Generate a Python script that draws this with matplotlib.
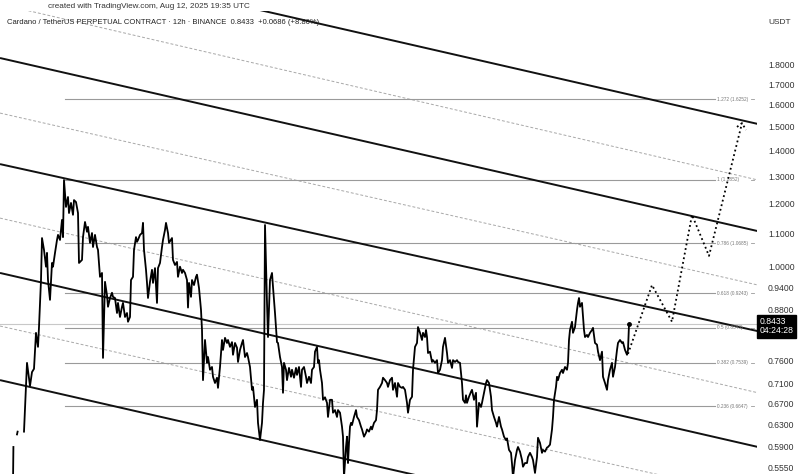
import numpy as np
import matplotlib
matplotlib.use("Agg")
import matplotlib.pyplot as plt
from matplotlib.ticker import FixedLocator, NullLocator, NullFormatter, FormatStrFormatter
from matplotlib.patches import Rectangle

plt.rcParams['font.family'] = ['Liberation Sans', 'DejaVu Sans']

nan = np.nan

# ADAUSDT perp, 12h closes (bar position, price)
bar = [13, 13.4, nan, 17, 17.6, nan,
       24, 27, 30, 32, 34, 36, 38, 39, 41, 42, 44, 46, 47, 48, 50, 52, 53, 55, 57, 58, 60, 62, 63, 64,
       66, 68, 69, 71, 73, 74, 76, 78, 79, 82, 83, 85, 87, 88, 90, 92, 93, 95, 97, 98, 100, 102, 103,
       105, 107, 108, 110, 112, 113, 115, 117, 118, 120, 122, 123, 125, 127, 128, 130, 131, 133, 134,
       136, 137, 138, 140, 142, 143, 144, 146, 147, 148, 150, 152, 153, 155, 157, 158, 160, 162, 163,
       165, 166, 168, 169, 172, 173, 175, 177, 178, 180, 182, 183, 185, 187, 188, 189, 191, 192, 194,
       196, 197, 199, 201, 202, 203, 205, 207, 208, 210, 212, 213, 215, 217, 218, 220, 222, 223, 225,
       227, 228, 230, 232, 233, 235, 237, 238, 240, 242, 243, 245, 247, 248, 250, 252, 253, 255, 257,
       258, 260, 262, 263, 264, 265, 267, 268, 270, 272, 273, 275, 277, 278, 280, 282, 283, 284, 286,
       287, 289, 291, 292, 294, 296, 297, 299, 301, 302, 304, 306, 307, 309, 311, 312, 314, 315, 317,
       318, 319, 320, 322, 323, 325, 327, 328, 330, 332, 333, 335, 337, 338, 340, 342, 343, 344, 346,
       347, 348, 349, 350, 351, 352, 354, 356, 357, 359, 361, 362, 364, 366, 367, 369, 371, 372, 374,
       376, 377, 378, 380, 382, 383, 385, 387, 388, 390, 392, 393, 395, 397, 398, 400, 402, 403, 405,
       407, 408, 410, 412, 413, 415, 417, 418, 420, 422, 423, 425, 426, 427, 428, 430, 432, 433, 435,
       437, 438, 440, 442, 443, 445, 447, 448, 450, 452, 453, 455, 457, 458, 460, 462, 463, 465, 466,
       467, 469, 471, 472, 474, 476, 477, 479, 481, 482, 484, 486, 487, 489, 491, 492, 494, 496, 497,
       499, 501, 502, 504, 506, 507, 509, 511, 512, 513, 515, 517, 518, 520, 522, 523, 525, 527, 528,
       530, 532, 533, 535, 537, 538, 540, 542, 543, 545, 547, 548, 550, 552, 553, 554, 556, 557, 558,
       560, 562, 563, 565, 567, 568, 569, 570, 572, 573, 575, 577, 578, 579, 580, 582, 583, 584, 585,
       587, 588, 590, 592, 593, 595, 597, 598, 600, 602, 603, 605, 607, 608, 610, 612, 613, 615, 617,
       618, 620, 622, 623, 625, 627, 628, 629]
close = [0.530, 0.590, nan, 0.612, 0.617, nan,
         0.617, 0.754, 0.705, 0.734, 0.741, 0.823, 0.790, 0.837, 0.960, 1.085, 1.048, 0.998, 1.039, 0.960,
         0.906, 1.009, 0.998, 1.039, 1.079, 1.095, 1.079, 1.144, 1.088, 1.285,
         1.188, 1.223, 1.167, 1.202, 1.161, 1.212, 1.205, 1.167, 1.009, 1.018, 1.088, 1.137, 1.105, 1.121,
         1.070, 1.101, 1.057, 1.095, 1.057, 1.048, 0.969, 0.980, 0.765,
         0.955, 0.918, 0.888, 0.911, 0.925, 0.914, 0.911, 0.872, 0.898, 0.862, 0.888, 0.898, 0.862, 0.872,
         0.850, 0.862, 0.960, 0.969, 1.048,
         1.088, 1.073, 1.079, 1.095, 1.101, 1.134, 1.048, 0.989, 0.952, 0.911, 0.955, 0.989, 0.952, 0.994,
         0.898, 0.994, 1.009, 1.057, 1.079,
         1.111, 1.134, 1.101, 1.070, 1.085, 1.018, 1.003, 1.012, 0.969, 0.998, 0.980, 0.989, 0.980, 0.960,
         0.886, 0.952, 0.914, 0.960, 0.946,
         0.969, 0.975, 0.938, 0.880, 0.830, 0.717, 0.806, 0.754, 0.767, 0.739, 0.745, 0.724, 0.711, 0.722,
         0.701, 0.745, 0.806, 0.783, 0.811,
         0.799, 0.806, 0.790, 0.801, 0.772, 0.799, 0.788, 0.756, 0.783, 0.799, 0.806, 0.767, 0.776, 0.767,
         0.745, 0.697, 0.703, 0.663, 0.677,
         0.633, 0.602, 0.633, 0.671, 0.697, 1.127, 0.898, 0.813, 0.960, 0.980, 0.941, 0.872, 0.801, 0.799,
         0.767, 0.745, 0.691, 0.754, 0.739,
         0.717, 0.743, 0.724, 0.739, 0.722, 0.743, 0.728, 0.745, 0.703, 0.739, 0.745, 0.724, 0.711, 0.724,
         0.711, 0.739, 0.745, 0.779, 0.790,
         0.754, 0.760, 0.739, 0.711, 0.677, 0.682, 0.671, 0.644, 0.677, 0.677, 0.652, 0.657, 0.644, 0.657,
         0.652, 0.626, 0.608, 0.540, 0.590,
         0.608, 0.563, 0.597, 0.626, 0.633, 0.629, 0.644, 0.657, 0.644, 0.638, 0.626, 0.621, 0.608, 0.615,
         0.621, 0.617, 0.626, 0.621, 0.633,
         0.638, 0.657, 0.697, 0.703, 0.711, 0.722, 0.717, 0.711, 0.703, 0.717, 0.722, 0.697, 0.711, 0.683,
         0.711, 0.703, 0.701, 0.703, 0.697,
         0.671, 0.652, 0.677, 0.683, 0.739, 0.790, 0.799, 0.837, 0.823, 0.806, 0.823, 0.813, 0.830, 0.813,
         0.776, 0.779, 0.756, 0.760, 0.754,
         0.760, 0.732, 0.739, 0.760, 0.790, 0.811, 0.776, 0.754, 0.760, 0.743, 0.760, 0.756, 0.760, 0.756,
         0.754, 0.711, 0.677, 0.671, 0.686,
         0.671, 0.683, 0.693, 0.697, 0.677, 0.691, 0.626, 0.671, 0.663, 0.671, 0.691, 0.711, 0.717, 0.711,
         0.683, 0.657, 0.644, 0.633, 0.626,
         0.644, 0.626, 0.621, 0.608, 0.602, 0.605, 0.585, 0.580, 0.562, 0.540, 0.568, 0.585, 0.590, 0.582,
         0.568, 0.557, 0.563, 0.563, 0.573,
         0.580, 0.573, 0.568, 0.547, 0.573, 0.606, 0.597, 0.580, 0.585, 0.582, 0.589, 0.590, 0.594, 0.621,
         0.644, 0.677, 0.703, 0.724, 0.717,
         0.732, 0.739, 0.732, 0.745, 0.739, 0.754, 0.806, 0.830, 0.850, 0.823, 0.837, 0.880, 0.898, 0.911,
         0.888, 0.898, 0.862, 0.830, 0.813,
         0.818, 0.813, 0.823, 0.830, 0.835, 0.799, 0.795, 0.779, 0.760, 0.779, 0.724, 0.711, 0.697, 0.717,
         0.739, 0.754, 0.724, 0.745, 0.783,
         0.799, 0.806, 0.799, 0.801, 0.783, 0.772, 0.783, 0.8433]

last_price = 0.8433

# projected path (dotted)
proj_bar = [628, 652, 672, 692, 709, 742]
proj_price = [0.774, 0.946, 0.850, 1.161, 1.030, 1.517]
arrow_bar = [737, 742, 746]
arrow_price = [1.500, 1.517, 1.487]

# descending channel: solid rails and dashed mid lines (bar0, price0, bar1, price1)
rails = [(216, 2.172, 758, 1.513),
         (0, 1.834, 758, 1.107),
         (0, 1.346, 758, 0.827),
         (0, 0.980, 758, 0.590),
         (0, 0.717, 420, 0.542)]
mids = [(0, 2.146, 758, 1.285),
        (0, 1.562, 758, 0.946),
        (0, 1.150, 758, 0.691),
        (0, 0.8395, 660, 0.5437)]

# fib retracement levels
fib_ratio = ['1.272', '1', '0.786', '0.618', '0.5', '0.382', '0.236']
fib_price = [1.6252, 1.2852, 1.0685, 0.9243, 0.8348, 0.7539, 0.6647]
fib_start = 65

yticks = [1.8, 1.7, 1.6, 1.5, 1.4, 1.3, 1.2, 1.1, 1.0, 0.94, 0.88, 0.76, 0.71, 0.67, 0.63, 0.59, 0.555]

fig = plt.figure(figsize=(8, 4.74), dpi=100)
ax = fig.add_axes([0, 0, 757 / 800, 1])
ax.set_yscale('log')
ax.set_xlim(0, 757)
ax.set_ylim(0.5453, 2.172)

for b0, p0, b1, p1 in mids:
    ax.plot([b0, b1], [p0, p1], color='#a8a8a8', lw=0.7, dashes=(3, 2), zorder=1)
for b0, p0, b1, p1 in rails:
    ax.plot([b0, b1], [p0, p1], color='#111111', lw=1.4, zorder=2, solid_capstyle='butt')

for r, p in zip(fib_ratio, fib_price):
    ax.plot([fib_start, 715], [p, p], color='#9a9a9a', lw=0.8, zorder=1)
    ax.text(717, p, f'{r} ({p:.4f})', fontsize=3.4, color='#777777', va='center', ha='left')
    ax.plot([751, 754], [p, p], color='#9a9a9a', lw=0.6, zorder=1)

ax.axhline(last_price, color='#c8c8c8', lw=0.8, zorder=1)

ax.plot(bar, close, color='black', lw=1.3, zorder=4, solid_joinstyle='round')
ax.plot(bar[-1], close[-1], 'o', color='black', ms=2.5, zorder=5)

ax.plot(proj_bar, proj_price, color='black', lw=1.3, linestyle=(0, (1, 1.6)), zorder=3)
ax.plot(arrow_bar, arrow_price, color='black', lw=1.3, linestyle=(0, (1, 1.6)), zorder=3)

for s in ax.spines.values():
    s.set_visible(False)
ax.set_xticks([])
ax.yaxis.tick_right()
ax.yaxis.set_major_locator(FixedLocator(yticks))
ax.yaxis.set_major_formatter(FormatStrFormatter('%.4f'))
ax.yaxis.set_minor_locator(NullLocator())
ax.yaxis.set_minor_formatter(NullFormatter())
ax.tick_params(axis='y', length=0, pad=8, labelsize=6.2, labelcolor='#333333')

# last price tag
ax.text(1.004, last_price * 0.995, '0.8433\n04:24:28', transform=ax.get_yaxis_transform(),
        fontsize=6.2, color='white', va='center', ha='left', linespacing=1.0,
        bbox=dict(boxstyle='square,pad=0.3', fc='black', ec='black'), clip_on=False, zorder=10)

# header strip
fig.patches.append(Rectangle((0, 1 - 11 / 474), 1, 11 / 474, transform=fig.transFigure,
                             fc='white', ec='none', zorder=20))
fig.text(48 / 800, 1 - 6 / 474, 'created with TradingView.com, Aug 12, 2025 19:35 UTC',
         fontsize=5.9, color='#333333', va='center', ha='left', zorder=21)
fig.text(7 / 800, 1 - 22 / 474,
         'Cardano / TetherUS PERPETUAL CONTRACT \u00b7 12h \u00b7 BINANCE  0.8433  +0.0686 (+8.86%)',
         fontsize=5.5, color='#222222', va='center', ha='left', zorder=21)
fig.text(768 / 800, 1 - 22 / 474, 'USDT', fontsize=6.0, color='#333333', va='center', ha='left')

fig.savefig('out.png', dpi=100, facecolor='white')
